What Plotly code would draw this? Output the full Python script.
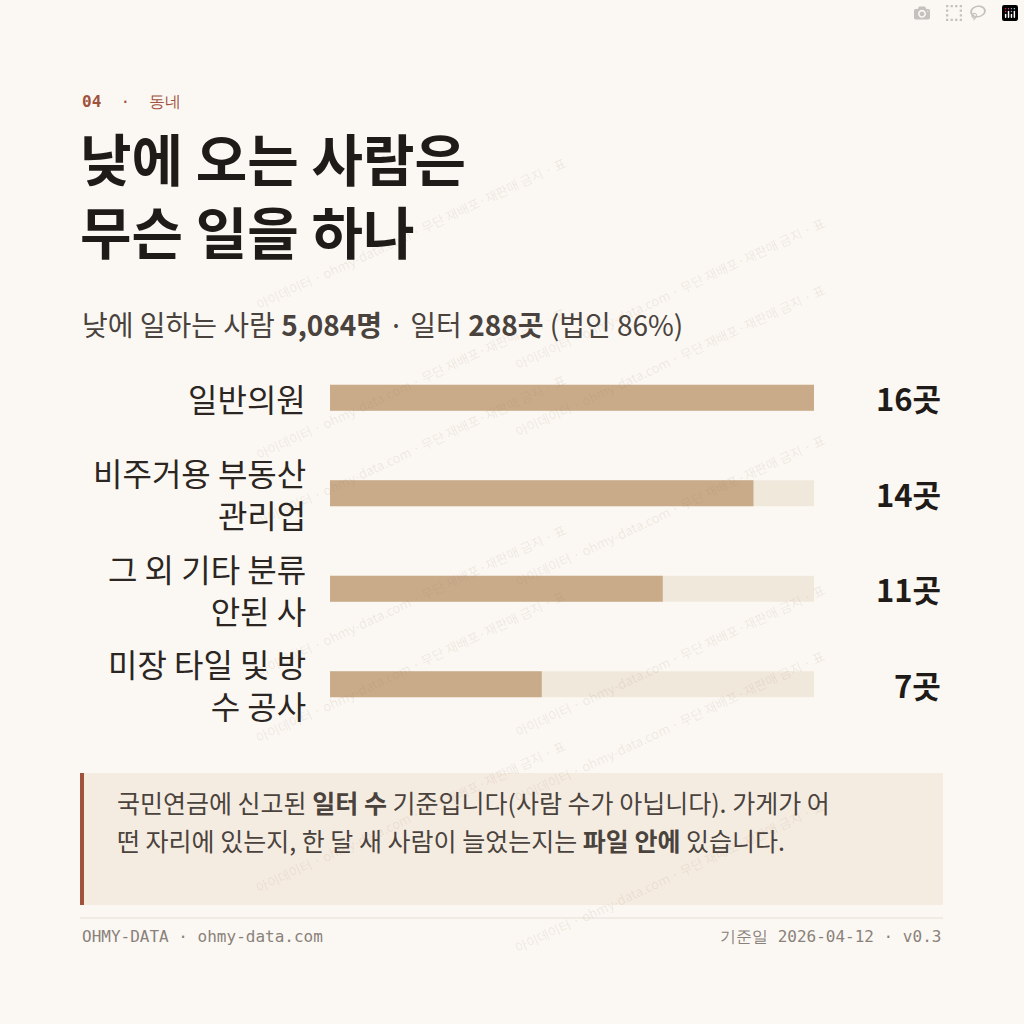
import plotly.graph_objects as go

categories = ["일반의원", "비주거용 부동산<br>관리업", "그 외 기타 분류<br>안된 사", "미장 타일 및 방<br>수 공사"]
values = [16, 14, 11, 7]
value_labels = ["16곳", "14곳", "11곳", "7곳"]
max_value = 16

W = H = 1024
BG = "#fbf8f3"
FONT = "Noto Sans CJK KR"
MONO = "DejaVu Sans Mono"

def px(x): return x / W
def py(y): return 1 - y / H

fig = go.Figure()
yidx = list(range(len(categories)))
fig.add_trace(go.Bar(x=[max_value]*len(values), y=yidx, orientation="h",
                     marker=dict(color="#f1e8dc", line=dict(width=0)), width=0.27, hoverinfo="skip"))
fig.add_trace(go.Bar(x=values, y=yidx, orientation="h",
                     marker=dict(color="#c9ab8a", line=dict(width=0)), width=0.27))

fig.update_layout(
    width=W, height=H, margin=dict(l=0, r=0, t=0, b=0),
    paper_bgcolor=BG, plot_bgcolor="rgba(0,0,0,0)", barmode="overlay", showlegend=False,
    xaxis=dict(domain=[px(330), px(814)], range=[0, max_value], visible=False, fixedrange=True),
    yaxis=dict(domain=[py(732), py(350)], range=[3.5, -0.5], visible=False, fixedrange=True),
    font=dict(family=FONT),
)

ann = []
wm = "아이데이터 · ohmy-data.com · 무단 재배포·재판매 금지 · 표"
for row in range(6):
    for col in range(2):
        ann.append(dict(x=px(250 + col * 420), y=py(150 + row * 150 + col * 60), xref="paper", yref="paper",
                        text=wm, showarrow=False, textangle=-25,
                        font=dict(size=13, color="rgba(150,110,80,0.13)", family=FONT)))

for i, (c, v) in enumerate(zip(categories, value_labels)):
    ann.append(dict(x=px(308), y=i, xref="paper", yref="y", text=c, showarrow=False,
                    xanchor="right", align="right", font=dict(size=32, color="#2b2622", family=FONT)))
    ann.append(dict(x=px(943), y=i, xref="paper", yref="y", text=f"<b>{v}</b>", showarrow=False,
                    xanchor="right", font=dict(size=31, color="#1f1b18", family=FONT)))

ann += [
    dict(x=px(80), y=py(90), xref="paper", yref="paper", text="<b>04</b>  ·  동네", showarrow=False,
         xanchor="left", font=dict(size=16, color="#a0523d", family=MONO)),
    dict(x=px(78), y=py(193), xref="paper", yref="paper", text="<b>낮에 오는 사람은<br>무슨 일을 하나</b>",
         showarrow=False, xanchor="left", yanchor="middle", align="left",
         font=dict(size=56, color="#1f1b18", family=FONT)),
    dict(x=px(80), y=py(302), xref="paper", yref="paper",
         text="낮에 일하는 사람 <b>5,084명</b> · 일터 <b>288곳</b> (법인 86%)", showarrow=False,
         xanchor="left", font=dict(size=28, color="#4a433d", family=FONT)),
    dict(x=px(115), y=py(822), xref="paper", yref="paper",
         text="국민연금에 신고된 <b>일터 수</b> 기준입니다(사람 수가 아닙니다). 가게가 어",
         showarrow=False, xanchor="left", font=dict(size=25, color="#4a433d", family=FONT)),
    dict(x=px(115), y=py(860), xref="paper", yref="paper",
         text="떤 자리에 있는지, 한 달 새 사람이 늘었는지는 <b>파일 안에</b> 있습니다.",
         showarrow=False, xanchor="left", font=dict(size=25, color="#4a433d", family=FONT)),
    dict(x=px(80), y=py(948), xref="paper", yref="paper", text="OHMY-DATA · ohmy-data.com",
         showarrow=False, xanchor="left", font=dict(size=16, color="#8a817a", family=MONO)),
    dict(x=px(943), y=py(948), xref="paper", yref="paper", text="기준일 2026-04-12 · v0.3",
         showarrow=False, xanchor="right", font=dict(size=16, color="#8a817a", family=MONO)),
]
fig.update_layout(annotations=ann, shapes=[
    dict(type="rect", xref="paper", yref="paper", x0=px(80), x1=px(943), y0=py(905), y1=py(773),
         fillcolor="#f5ece1", line=dict(width=0), layer="below"),
    dict(type="rect", xref="paper", yref="paper", x0=px(80), x1=px(84), y0=py(905), y1=py(773),
         fillcolor="#a0523d", line=dict(width=0)),
    dict(type="line", xref="paper", yref="paper", x0=px(80), x1=px(943), y0=py(918), y1=py(918),
         line=dict(color="#e6dfd6", width=1)),
])
fig.write_html("out.html", post_script="document.body.style.margin='0';document.body.style.background='#fbf8f3';")
